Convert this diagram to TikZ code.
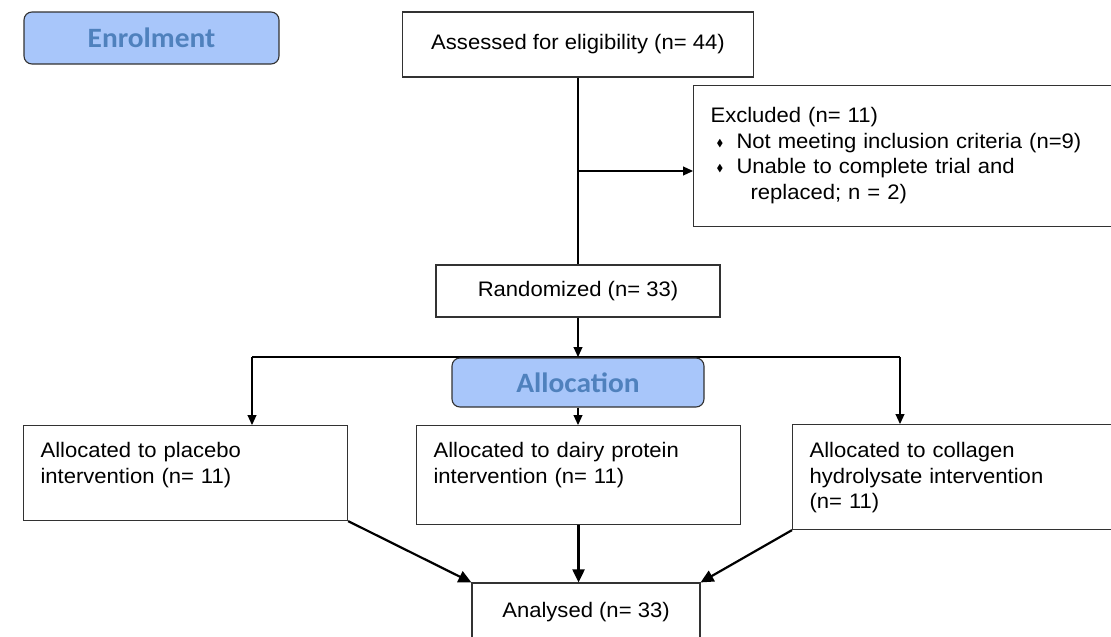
\documentclass[tikz,border=0pt]{standalone}
\usepackage{amssymb}
\usepackage{fontspec}
\setmainfont{Liberation Sans}[FakeStretch=1.05]
\newfontfamily\headfont{Carlito}[FakeStretch=1.05]
\usetikzlibrary{arrows.meta}
\definecolor{headfill}{RGB}{168,198,250}
\definecolor{headtext}{RGB}{79,129,189}
\definecolor{frame}{RGB}{50,50,50}
\newcommand{\exbullet}{\makebox[20pt][l]{\raisebox{2pt}{\fontsize{10}{10}\selectfont$\blacklozenge$}}}

\begin{document}
\begin{tikzpicture}[x=1pt,y=-1pt,
    frameline/.style={draw=frame,line width=1.1pt},
    stage/.style={frameline,rounded corners=8pt,fill=headfill,text=headtext,inner sep=0pt,
        font=\headfont\bfseries\fontsize{28}{32}\selectfont},
    single/.style={frameline,fill=white,inner sep=0pt,font=\fontsize{21}{25.5}\selectfont},
    multi/.style={frameline,fill=white,anchor=north west,align=left,inner xsep=17pt,inner ysep=0pt,
        font=\fontsize{21}{25.5}\selectfont},
    flow/.style={line width=1.1pt,-{Triangle[length=10pt,width=9pt]}},
    merge/.style={line width=2.2pt,-{Triangle[length=13pt,width=12pt]}}]
                \clip (0,0) rectangle (1111,637);
                \node[stage,minimum width=255pt,minimum height=52pt] (enrol) at (151.5,38) {Enrolment};
                \node[single,minimum width=351pt,minimum height=65pt] (assess) at (578,44.5) {Assessed for eligibility (n= 44)};
                \node[multi,text width=400pt,text height=37pt,text depth=104pt] (excl) at (693,85)
                    {Excluded (n= 11)\\
                     \hspace*{6pt}\exbullet Not meeting inclusion criteria (n=9)\\
                     \hspace*{6pt}\exbullet Unable to complete trial and\\
                     \hspace*{40pt}replaced; n = 2)};
                \node[single,minimum width=284pt,minimum height=52pt] (rand) at (578,291) {Randomized (n= 33)};
                \coordinate (branch) at (578,171);
                \draw[line width=1.1pt] (assess.south) -- (rand.north);
                \draw[flow] (branch) -- (branch -| excl.west);

                \coordinate (splitL) at (252,357);
                \coordinate (splitR) at (900,357);
                \draw[flow] (rand.south) -- (rand.south |- splitL);
                \draw[line width=1.1pt] (splitL) -- (splitR);
                \node[stage,minimum width=252pt,minimum height=49pt] (alloc) at (578,382.5) {Allocation};

                \node[multi,text width=290pt,text height=32pt,text depth=63pt] (plac) at (23,425)
                    {Allocated to placebo\\intervention (n= 11)};
                \node[multi,text width=290pt,text height=32pt,text depth=67pt] (dairy) at (416,425)
                    {Allocated to dairy protein\\intervention (n= 11)};
                \node[multi,text width=330pt,text height=33pt,text depth=72pt] (coll) at (792,424)
                    {Allocated to collagen\\hydrolysate intervention\\(n= 11)};
                \draw[flow] (splitL) -- (splitL |- plac.north);
                \draw[flow] (splitR) -- (splitR |- coll.north);
                \draw[flow] (alloc.south) -- (alloc.south |- dairy.north);

                \node[single,minimum width=228pt,minimum height=58pt] (anal) at (586,612) {Analysed (n= 33)};
                \draw[merge] (plac.south east) -- (anal.north west);
                \draw[merge] (dairy.south) -- (dairy.south |- anal.north);
                \draw[merge] (coll.south west) -- (anal.north east);
\end{tikzpicture}
\end{document}
